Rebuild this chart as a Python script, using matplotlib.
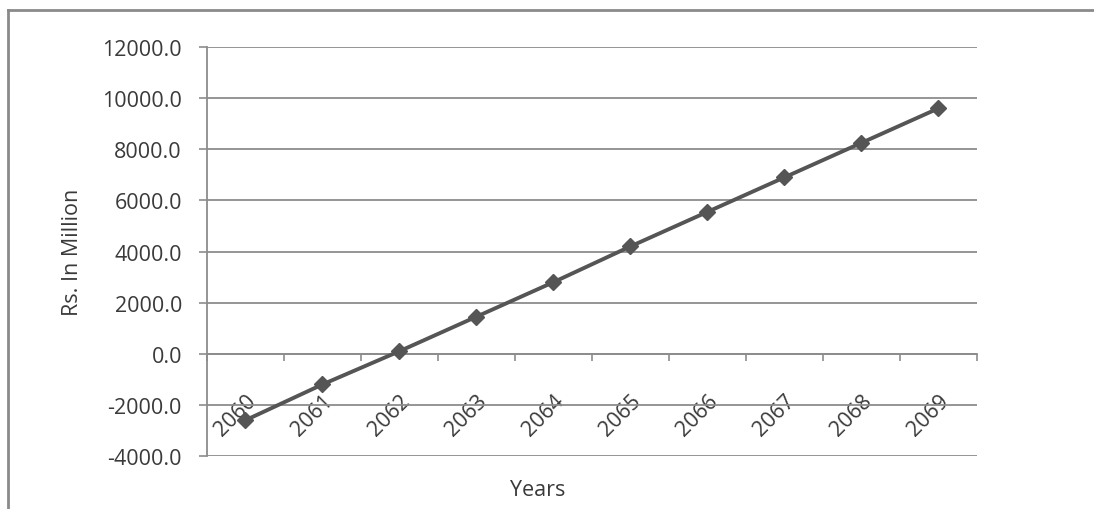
import numpy as np
import matplotlib.pyplot as plt
from matplotlib.lines import Line2D

years = ['2060', '2061', '2062', '2063', '2064', '2065', '2066', '2067', '2068', '2069']
values = [-2600, -1200, 100, 1450, 2800, 4200, 5550, 6900, 8250, 9600]

plt.rcParams['font.family'] = ['Open Sans', 'DejaVu Sans']
fs = 15.5
tc = '#3a3a3a'

fig = plt.figure(figsize=(10.94, 5.10), dpi=100)
ax = fig.add_axes([0.1892, 0.1039, 0.7038, 0.802])

x = np.arange(len(years))
ax.plot(x, values, color='#555555', lw=2.8, marker='D', markersize=8.5, zorder=3)

ax.set_xlim(-0.5, len(years) - 0.5)
ax.set_ylim(-4000, 12000)
ax.set_yticks(np.arange(-4000, 12001, 2000))
ax.set_yticklabels(['%.1f' % v for v in np.arange(-4000, 12001, 2000)],
                   fontsize=fs, color=tc)
ax.yaxis.grid(True, color='#8c8c8c', lw=1.3)
ax.set_axisbelow(True)

for s in ['top', 'right']:
    ax.spines[s].set_visible(False)
ax.spines['left'].set_color('#8c8c8c')
ax.spines['left'].set_linewidth(1.3)
ax.spines['bottom'].set_position(('data', 0))
ax.spines['bottom'].set_color('#8c8c8c')
ax.spines['bottom'].set_linewidth(1.3)

ax.tick_params(axis='y', length=6, color='#8c8c8c', width=1.2, pad=12)
ax.set_xticks(x)
ax.set_xticklabels(years, fontsize=fs, color=tc, rotation=45,
                   ha='right', va='top', rotation_mode='anchor')
ax.tick_params(axis='x', which='major', length=0, pad=26)
ax.set_xticks(np.arange(-0.5, len(years)), minor=True)
ax.tick_params(axis='x', which='minor', length=5, color='#8c8c8c', width=1.2)

ax.set_ylabel('Rs. In Million', fontsize=fs, color=tc, labelpad=14)
fig.text(538 / 1094, 1 - 491 / 510, 'Years', fontsize=fs, color=tc,
         ha='center', va='center')

# chart frame (top and left edges visible)
fig.add_artist(Line2D([8 / 1094, 1.0], [1 - 11 / 510, 1 - 11 / 510],
                      color='#8a8a8a', lw=2, transform=fig.transFigure))
fig.add_artist(Line2D([8 / 1094, 8 / 1094], [1 - 11 / 510, 0],
                      color='#8a8a8a', lw=2, transform=fig.transFigure))

fig.savefig('out.png', dpi=100)
